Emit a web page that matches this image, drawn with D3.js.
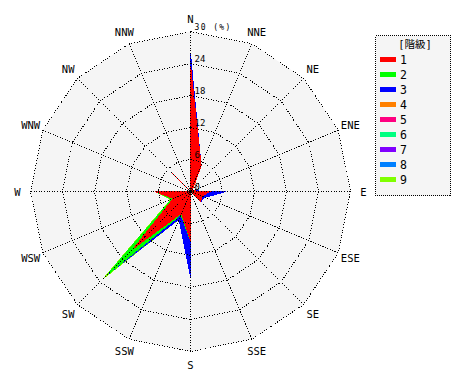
<!DOCTYPE html>
<html>
<head>
<meta charset="utf-8">
<script src="https://cdn.jsdelivr.net/npm/d3@7"></script>
<style>
  html, body { margin: 0; padding: 0; background: #ffffff; }
  svg { display: block; }
  text { font-family: "DejaVu Sans Mono", "Liberation Mono", monospace; fill: #000; }
</style>
</head>
<body>
<svg id="chart" width="470" height="380"></svg>
<script>
// ---- data ----
const directions = ["N","NNE","NE","ENE","E","ESE","SE","SSE","S","SSW","SW","WSW","W","WNW","NW","NNW"];
const classNames = ["1","2","3","4","5","6","7","8","9"];
const classColors = ["#ff0000","#00ff00","#0000ff","#ff8000","#ff0080","#00ff80","#8000ff","#0080ff","#80ff00"];
const class1 = [23.6, 5.2, 0.5, 0.3, 3.6, 2.3, 2.7, 0, 9.2, 4.4, 15.0, 3.5, 6.6, 0, 4.9, 0];
const class2 = [0, 0, 0, 0, 0, 0, 0, 0, 0, 0.3, 7.0, 0.3, 0, 0, 0, 0];
const class3 = [2.2, 0, 0, 0, 3.1, 0.6, 0, 0, 6.8, 0.9, 0, 0, 0, 0, 0, 0];
const class4 = [0, 0, 0, 0, 0, 0, 0, 0, 0, 0, 0, 0, 0, 0, 0, 0];
const class5 = [0, 0, 0, 0, 0, 0, 0, 0, 0, 0, 0, 0, 0, 0, 0, 0];
const class6 = [0, 0, 0, 0, 0, 0, 0, 0, 0, 0, 0, 0, 0, 0, 0, 0];
const class7 = [0, 0, 0, 0, 0, 0, 0, 0, 0, 0, 0, 0, 0, 0, 0, 0];
const class8 = [0, 0, 0, 0, 0, 0, 0, 0, 0, 0, 0, 0, 0, 0, 0, 0];
const class9 = [0, 0, 0, 0, 0, 0, 0, 0, 0, 0, 1.0, 0.2, 0, 0, 0, 0];
const tickValues = [0, 6, 12, 18, 24, 30];
const tickLabels = ["0", "6", "12", "18", "24", "30 (%)"];
const legendTitle = "[階級]";

const allClasses = [class1, class2, class3, class4, class5, class6, class7, class8, class9];

// ---- layout ----
const svg = d3.select("#chart");
const cx = 190.5, cy = 191.5, R = 160;
const r = d3.scaleLinear().domain([0, 30]).range([0, R]);
const angle = d3.scalePoint().domain(directions).range([0, 2 * Math.PI - 2 * Math.PI / directions.length]);
const g = svg.append("g").attr("transform", `translate(${cx},${cy})`);

const ringLine = d3.lineRadial().curve(d3.curveLinearClosed);

// background
g.append("path")
  .attr("d", ringLine(directions.map(d => [angle(d), r(30)])))
  .attr("fill", "#f5f5f5");

// cumulative series
const cumulative = [];
let acc = directions.map(() => 0);
allClasses.forEach(arr => {
  acc = acc.map((v, i) => v + arr[i]);
  cumulative.push(acc.slice());
});

// draw outermost first
for (let k = cumulative.length - 1; k >= 0; k--) {
  const pts = directions.map((d, i) => [angle(d), r(cumulative[k][i])]);
  g.append("path")
    .attr("d", ringLine(pts))
    .attr("fill", classColors[k])
    .attr("stroke", classColors[k])
    .attr("stroke-width", 1)
    .attr("shape-rendering", "crispEdges");
}

// grid rings
tickValues.filter(t => t > 0).forEach(t => {
  g.append("path")
    .attr("d", ringLine(directions.map(d => [angle(d), r(t)])))
    .attr("fill", "none")
    .attr("stroke", "#000")
    .attr("stroke-width", 1)
    .attr("stroke-dasharray", "1,1.6")
    .attr("shape-rendering", "crispEdges");
});

// spokes
directions.forEach(d => {
  const a = angle(d);
  g.append("line")
    .attr("x1", 0).attr("y1", 0)
    .attr("x2", r(30) * Math.sin(a))
    .attr("y2", -r(30) * Math.cos(a))
    .attr("stroke", "#000")
    .attr("stroke-width", 1)
    .attr("stroke-dasharray", "1,1.6")
    .attr("shape-rendering", "crispEdges");
});

// center dot
g.append("circle").attr("r", 2).attr("fill", "#000");

// direction labels
directions.forEach(d => {
  const a = angle(d);
  const lr = 173;
  g.append("text")
    .attr("x", lr * Math.sin(a))
    .attr("y", -lr * Math.cos(a))
    .attr("text-anchor", "middle")
    .attr("dominant-baseline", "central")
    .style("font-size", "10.5px")
    .text(d);
});

// tick labels along N axis
tickValues.forEach((t, i) => {
  g.append("text")
    .attr("x", 4)
    .attr("y", -r(t) - 4.5)
    .attr("dominant-baseline", "central")
    .style("font-size", i === tickValues.length - 1 ? "8px" : "9px")
    .style("letter-spacing", i === tickValues.length - 1 ? "1.4px" : "0px")
    .text(tickLabels[i]);
});

// legend
const lg = svg.append("g");
lg.append("rect")
  .attr("x", 375.5).attr("y", 35.5)
  .attr("width", 75).attr("height", 160)
  .attr("fill", "#f5f5f5")
  .attr("stroke", "#000")
  .attr("stroke-width", 1)
  .attr("stroke-dasharray", "1,1")
  .attr("shape-rendering", "crispEdges");
lg.append("text")
  .attr("x", 415).attr("y", 43.5)
  .attr("text-anchor", "middle")
  .attr("dominant-baseline", "central")
  .style("font-family", "'DejaVu Sans Mono', 'Noto Sans CJK JP', monospace")
  .style("font-size", "10.5px")
  .text(legendTitle);
const ly = d3.scalePoint().domain(classNames).range([59.5, 179.5]);
classNames.forEach((c, i) => {
  lg.append("rect")
    .attr("x", 380).attr("y", ly(c) - 2.5)
    .attr("width", 16).attr("height", 5)
    .attr("fill", classColors[i]);
  lg.append("text")
    .attr("x", 400).attr("y", ly(c))
    .attr("dominant-baseline", "central")
    .style("font-size", "11.5px")
    .text(c);
});
</script>
</body>
</html>
